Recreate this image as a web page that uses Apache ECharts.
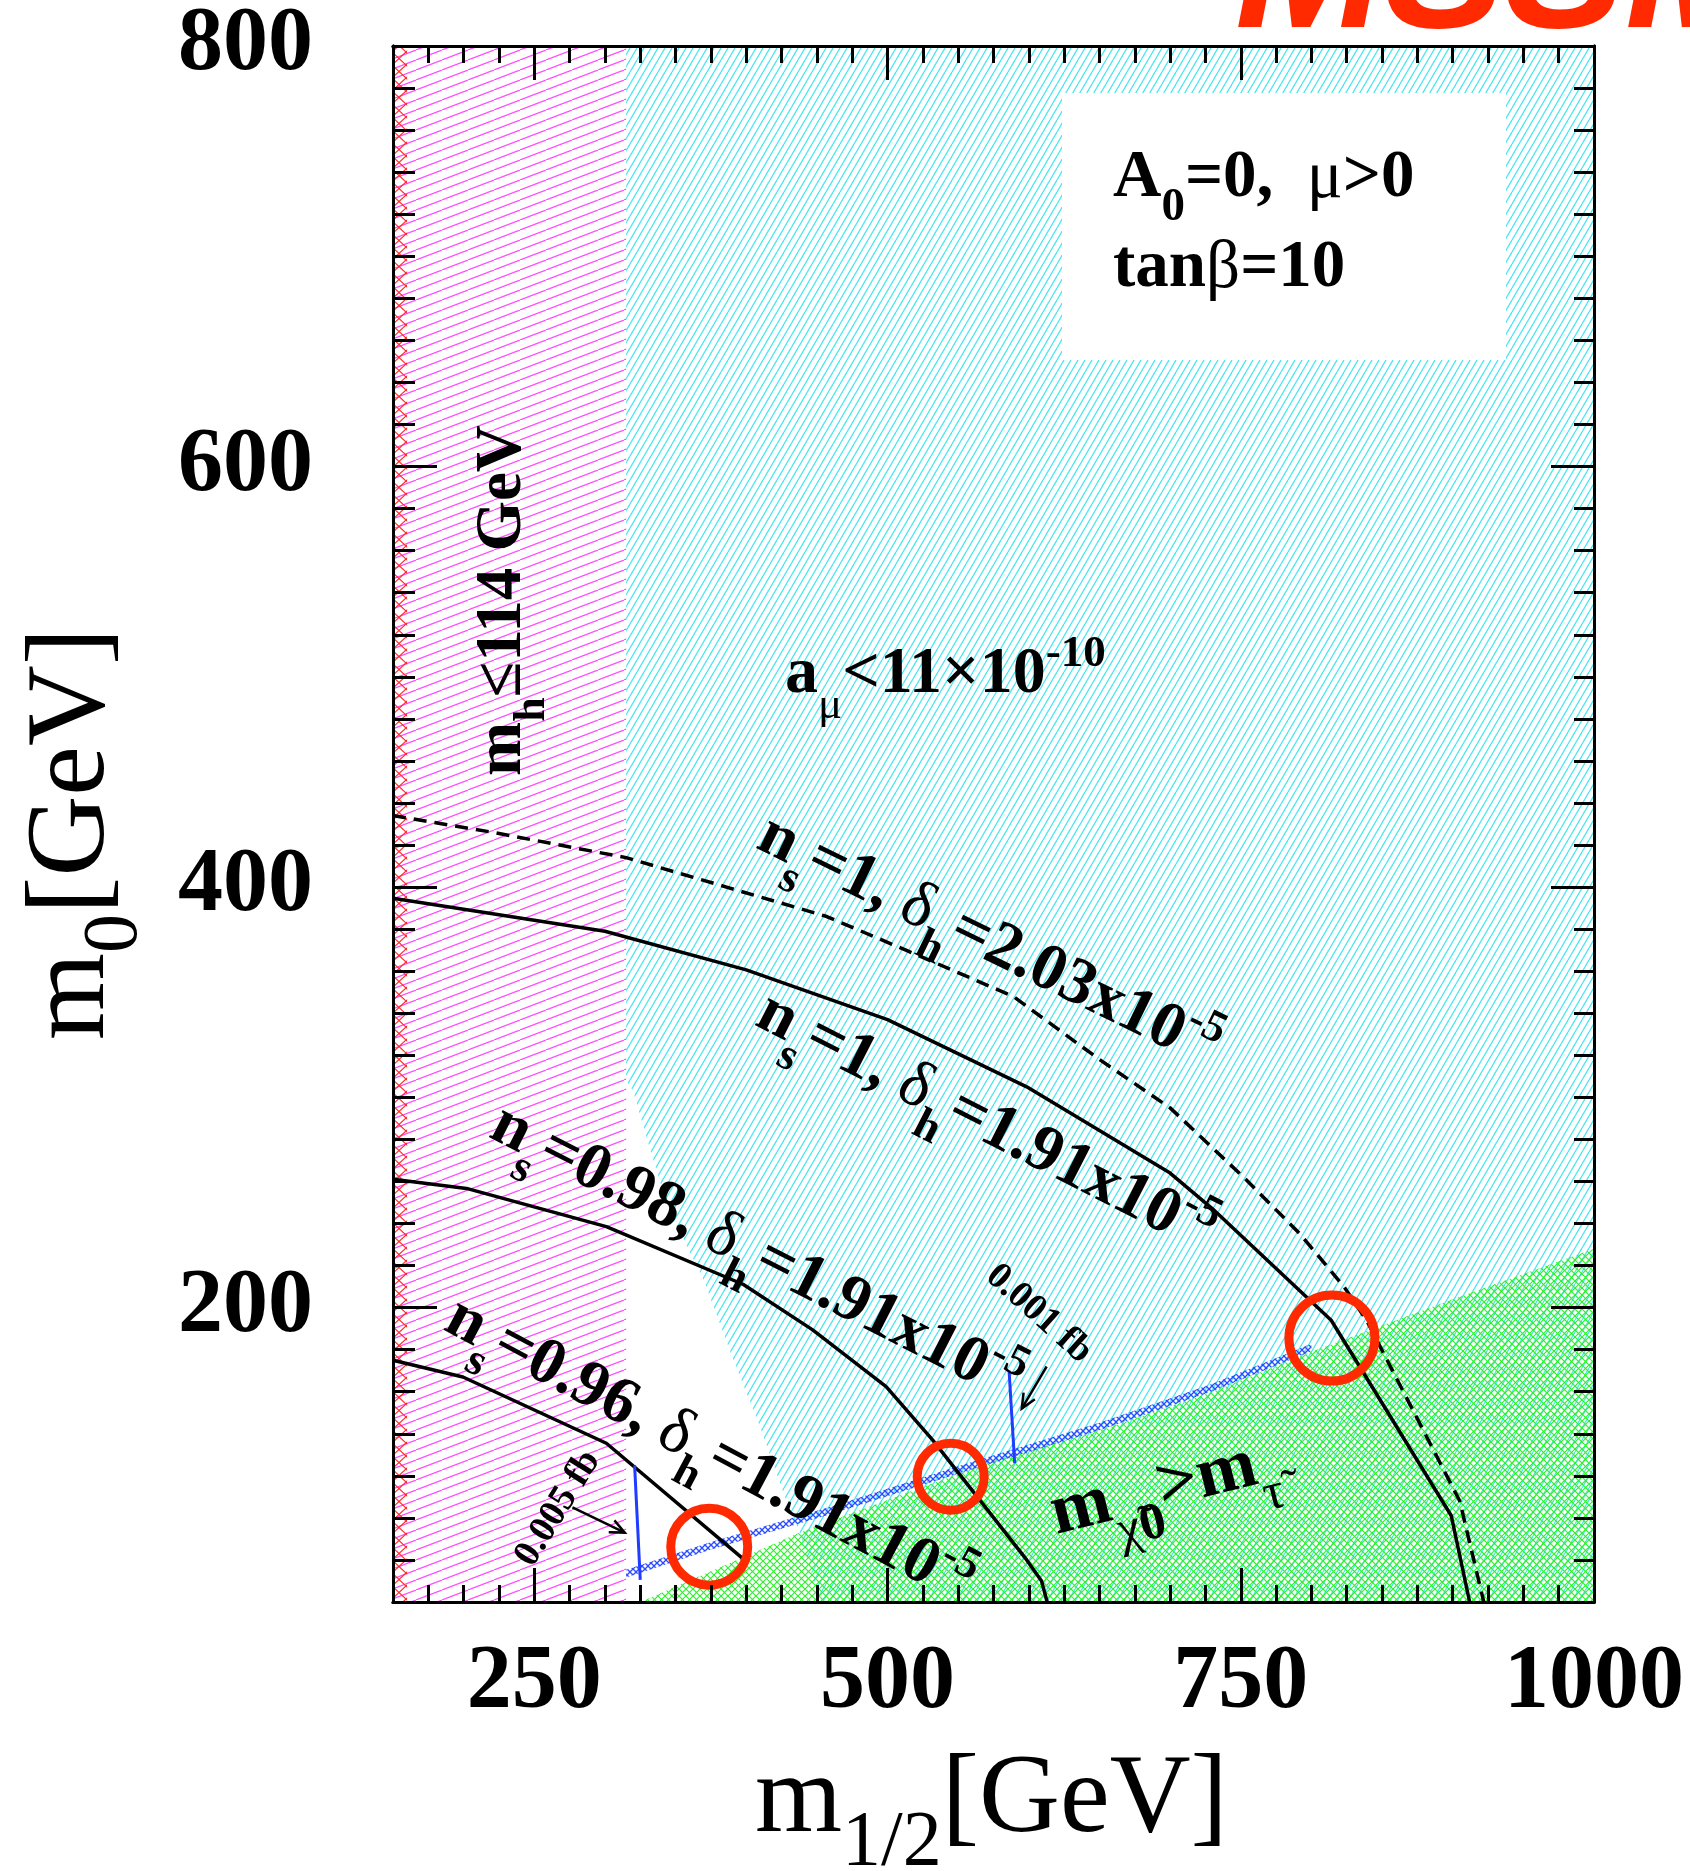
<!DOCTYPE html>
<html><head><meta charset="utf-8">
<script src="https://cdn.jsdelivr.net/npm/echarts@6/dist/echarts.min.js"></script>
<style>html,body{margin:0;padding:0;background:#fff}#c{width:1690px;height:1871px}</style>
</head><body><div id="c"></div>
<script>
// ---------------- data (m_1/2 [GeV], m_0 [GeV]) ----------------
const xTickLabels = [250, 500, 750, 1000];
const yTickLabels = [200, 400, 600, 800];

const lineNs1Delta203 = [[150,434],[221,426],[315,414],[386,400],[457,386],[513,370],[589,348],[650,318],[700,295],[752,262],[792,235],[823,210],[839,194],[905,108],[922,60]];
const lineNs1Delta191 = [[150,394.7],[300,379],[400,360.6],[500,337],[598.5,305],[700,264],[730,247],[814,194],[899,101],[912,60]];
const lineNs098 = [[150,261],[202,256.7],[301,238.5],[398,211],[447,189.4],[499,162.4],[532,137],[598.5,80],[609,70],[613,60]];
const lineNs096 = [[150,175],[199.5,167],[301,135.5],[397,81]];

const regionHiggs = [[150,60],[315,60],[315,800],[150,800]];
const regionLEP = [[150,60],[160,60],[160,800],[150,800]];
const regionGmuon = [[315,800],[1000,800],[1000,60],[452,60],[438,93],[429,107],[410,143],[391,175],[370,213],[348,243],[339,260],[329,282],[320,303],[315,308]];
const regionStau = [[325,60],[380,76],[438,93],[518,113],[551,121],[580,128],[650,141.5],[730,160],[800,179],[900,204],[1000,228],[1000,60]];
const coannStrip = [[315,73.5],[374,86.5],[462,104],[551,123],[650,143.5],[730,162],[800,181]];

const blueLine005 = [[321,125],[325,70.5]];
const blueLine001 = [[586,170],[590,126]];
const arrow005 = [[277,105],[314,93]];
const arrow001 = [[612.6,172],[595,152]];
const circleCenters = [[373.8,86.3],[544.7,119.6],[814.5,185.5]];

// ---------------- styles ----------------
const circleSizes = [77, 67, 86];
const SERIF = 'Liberation Serif';

function hatchCanvas(w, h, color, lw, dirs) {
  const c = document.createElement('canvas');
  c.width = w; c.height = h;
  const g = c.getContext('2d');
  g.strokeStyle = color; g.lineWidth = lw;
  for (const d of dirs) {
    for (let k = -1; k <= 1; k++) {
      g.beginPath();
      if (d === '/') { g.moveTo(k*w, h); g.lineTo(k*w + w, 0); }
      else { g.moveTo(k*w, 0); g.lineTo(k*w + w, h); }
      g.stroke();
    }
  }
  return {image: c, repeat: 'repeat'};
}
const patCyan = hatchCanvas(7, 12, '#4ae6f2', 1.3, ['/']);
const patMagenta = hatchCanvas(26, 10, '#ff4dff', 1.2, ['/']);
const patRed = hatchCanvas(14, 13, '#ff2a2a', 1.2, ['/', '\\']);
const patGreen = hatchCanvas(7, 7, '#2ef02e', 1.2, ['/', '\\']);
const patBlue = hatchCanvas(6, 6, '#2b4cff', 1.3, ['/', '\\']);

function regionSeries(pts, fill, z) {
  return {
    type: 'custom', coordinateSystem: 'cartesian2d', z, silent: true, clip: true,
    data: pts, encode: {x: 0, y: 1},
    renderItem(params, api) {
      if (params.dataIndex !== 0) return null;
      return {type: 'polygon', shape: {points: pts.map(p => api.coord(p))}, style: {fill: fill, stroke: null}};
    }
  };
}
function bandPolygon(center, half) {
  const up = center.map(p => [p[0], p[1] + half]);
  const dn = center.map(p => [p[0], p[1] - half]).reverse();
  return up.concat(dn);
}
function lineSeries(pts, color, width, type, z) {
  return {type: 'line', data: pts, symbol: 'none', showSymbol: false, silent: true, z: z || 6,
    clip: true, lineStyle: {color, width, type: type || 'solid', cap: 'butt'}};
}

const tickStyle = {color: '#000', width: 3};
function xAx(pos, len, extra) {
  return Object.assign({
    type: 'value', gridIndex: 0, position: pos, min: 150, max: 1000, interval: 25, z: 10,
    axisLine: {show: true, onZero: false, lineStyle: {color: '#000', width: 3}},
    axisTick: {show: true, inside: true, length: len, lineStyle: tickStyle},
    splitLine: {show: false}, axisLabel: {show: false}
  }, extra || {});
}
function yAx(pos, len, extra) {
  return Object.assign({
    type: 'value', gridIndex: 0, position: pos, min: 60, max: 800, interval: 20, z: 10,
    axisLine: {show: true, onZero: false, lineStyle: {color: '#000', width: 3}},
    axisTick: {show: true, inside: true, length: len, lineStyle: tickStyle},
    splitLine: {show: false}, axisLabel: {show: false}
  }, extra || {});
}
const tickLabelStyle = {show: true, interval: 0, fontSize: 90, fontWeight: 'bold', fontFamily: SERIF, color: '#000', showMinLabel: true, showMaxLabel: true};

// rich text helpers
function richSet(size, sub, subPad, supPad) {
  return {
    m: {fontSize: size, fontWeight: 'bold', fontFamily: SERIF, fill: '#000', verticalAlign: 'middle'},
    g: {fontSize: size, fontWeight: 'normal', fontFamily: SERIF, fill: '#000', verticalAlign: 'middle'},
    s: {fontSize: sub, fontWeight: 'bold', fontFamily: SERIF, fill: '#000', verticalAlign: 'middle', padding: [subPad, 0, 0, 0]},
    sg: {fontSize: sub, fontWeight: 'normal', fontFamily: SERIF, fill: '#000', verticalAlign: 'middle', padding: [subPad, 0, 0, 0]},
    p: {fontSize: sub, fontWeight: 'bold', fontFamily: SERIF, fill: '#000', verticalAlign: 'middle', padding: [0, 0, supPad, 0]}
  };
}
function txt(x, y, rotDeg, text, rich, z) {
  return {type: 'text', x, y, rotation: rotDeg * Math.PI / 180, z: z || 30, silent: true,
    style: {text, rich, fill: '#000', align: 'left', verticalAlign: 'middle', textAlign: 'left', textVerticalAlign: 'middle'}};
}
const r66 = richSet(66, 45, 62, 42);
const r65 = richSet(65, 44, 60, 42);
const r67 = richSet(67, 47, 57, 40);
const r72 = richSet(72, 52, 66, 44);
const rTitle = {
  m: {fontSize: 112, fontWeight: 'normal', fontFamily: SERIF, fill: '#000', verticalAlign: 'middle'},
  s: {fontSize: 78, fontWeight: 'normal', fontFamily: SERIF, fill: '#000', verticalAlign: 'middle', padding: [83, 0, 0, 0]}
};
function plainText(x, y, rotDeg, text, size) {
  return {type: 'text', x, y, rotation: rotDeg * Math.PI / 180, z: 30, silent: true,
    style: {text, fontSize: size, fontWeight: 'bold', fontFamily: SERIF, fill: '#000', align: 'left', verticalAlign: 'middle', textAlign: 'left', textVerticalAlign: 'middle'}};
}

const graphics = [
  {type: 'rect', shape: {x: 1062, y: 93, width: 444, height: 267}, style: {fill: '#fff'}, z: 5, silent: true},
  {type: 'text', x: 1235, y: -23, z: 30, silent: true,
   style: {text: 'MSSM', fontSize: 180, fontWeight: 'bold', fontStyle: 'italic', fontFamily: 'Liberation Sans', fill: '#ff2a00', align: 'left', verticalAlign: 'middle', textAlign: 'left', textVerticalAlign: 'middle'}},
  txt(1113, 179, 0, '{m|A}{s|0}{m|=0,  }{g|μ}{m|>0}', r67),
  txt(1113, 269, 0, '{m|tan}{g|β}{m|=10}', r67),
  txt(785, 675, 0, '{m|a}{sg|μ}{m|<11×10}{p|-10}', r66),
  txt(503, 776, 90, '{m|m}{s|h}{m|≤114 GeV}', r65),
  txt(762, 832, -26, '{m|n}{s|s}{m|=1, }{g|δ}{s|h}{m|=2.03x10}{p|-5}', r66),
  txt(761, 1009, -27, '{m|n}{s|s}{m|=1, }{g|δ}{s|h}{m|=1.91x10}{p|-5}', r66),
  txt(495, 1121, -27, '{m|n}{s|s}{m|=0.98, }{g|δ}{s|h}{m|=1.91x10}{p|-5}', r66),
  txt(450, 1314, -28, '{m|n}{s|s}{m|=0.96, }{g|δ}{s|h}{m|=1.91x10}{p|-5}', r66),
  txt(1052, 1516, 14, '{m|m}{sg|χ\u0303}{s|0}{m|>m}{sg|τ\u0303}', r72),
  plainText(524, 1563, 58, '0.005 fb', 38),
  plainText(991, 1271, -42, '0.001 fb', 38),
  txt(755, 1802, 0, '{m|m}{s|1/2}{m|[GeV]}', rTitle),
  txt(74, 1040, 90, '{m|m}{s|0}{m|[GeV]}', rTitle)
];

const chart = echarts.init(document.getElementById('c'), null, {renderer: 'canvas', width: 1690, height: 1871});
chart.setOption({
  animation: false,
  backgroundColor: '#fff',
  grid: {left: 393, top: 46, width: 1201, height: 1556, containLabel: false, show: false},
  xAxis: [
    xAx('bottom', 17, {axisLabel: Object.assign({}, tickLabelStyle, {margin: 37, formatter: v => xTickLabels.includes(v) ? String(v) : ''})}),
    xAx('bottom', 34, {axisTick: {show: true, inside: true, length: 34, lineStyle: tickStyle, customValues: xTickLabels}}),
    xAx('top', 17),
    xAx('top', 34, {axisTick: {show: true, inside: true, length: 34, lineStyle: tickStyle, customValues: xTickLabels}})
  ],
  yAxis: [
    yAx('left', 22, {axisLabel: Object.assign({}, tickLabelStyle, {margin: 80, padding: [7, 0, 0, 0], formatter: v => yTickLabels.includes(v) ? String(v) : ''})}),
    yAx('left', 44, {axisTick: {show: true, inside: true, length: 44, lineStyle: tickStyle, customValues: yTickLabels}}),
    yAx('right', 20),
    yAx('right', 43, {axisTick: {show: true, inside: true, length: 43, lineStyle: tickStyle, customValues: yTickLabels}})
  ],
  series: [
    regionSeries(regionGmuon, patCyan, 1),
    regionSeries(regionHiggs, patMagenta, 2),
    regionSeries(regionLEP, patRed, 3),
    regionSeries(regionStau, patGreen, 4),
    regionSeries(bandPolygon(coannStrip, 1.8), patBlue, 5),
    lineSeries(lineNs1Delta203, '#000', 3.5, [13, 8]),
    lineSeries(lineNs1Delta191, '#000', 3.5),
    lineSeries(lineNs098, '#000', 3.5),
    lineSeries(lineNs096, '#000', 3.5),
    lineSeries(blueLine005, '#1f3cff', 3),
    lineSeries(blueLine001, '#1f3cff', 3),
    {
      type: 'custom', coordinateSystem: 'cartesian2d', z: 7, silent: true,
      data: [arrow005[0].concat(arrow005[1]), arrow001[0].concat(arrow001[1])],
      encode: {x: [0, 2], y: [1, 3]},
      renderItem(params, api) {
        const a = api.coord([api.value(0), api.value(1)]);
        const b = api.coord([api.value(2), api.value(3)]);
        const ang = Math.atan2(b[1] - a[1], b[0] - a[0]);
        const L = 16, w = 0.42;
        const h1 = [b[0] - L * Math.cos(ang - w), b[1] - L * Math.sin(ang - w)];
        const h2 = [b[0] - L * Math.cos(ang + w), b[1] - L * Math.sin(ang + w)];
        return {type: 'group', children: [
          {type: 'line', shape: {x1: a[0], y1: a[1], x2: b[0], y2: b[1]}, style: {stroke: '#000', lineWidth: 2.5}},
          {type: 'polyline', shape: {points: [h1, b, h2]}, style: {stroke: '#000', lineWidth: 2.5, fill: null}}
        ]};
      }
    },
    {
      type: 'scatter', z: 8, silent: true,
      data: circleCenters.map((c, i) => ({value: c, symbolSize: circleSizes[i]})),
      symbol: 'circle',
      itemStyle: {color: 'rgba(0,0,0,0)', borderColor: '#ff2a00', borderWidth: 9, opacity: 1}
    }
  ],
  graphic: graphics
});
</script></body></html>
